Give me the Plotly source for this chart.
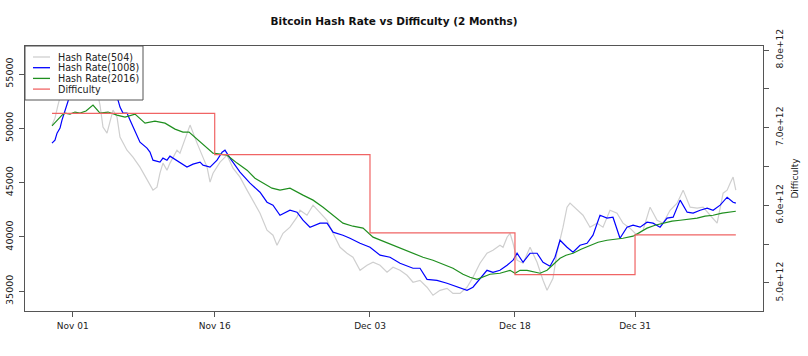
import pandas as pd
import plotly.graph_objects as go

# ---------------- data ----------------
base_date = "2018-10-30 00:00"

# Hash Rate(504) : days since base_date, hash rate
hr504_days = [0.08, 0.40, 0.72, 1.15, 1.58, 2.22, 3.08, 3.93, 4.68, 5.22, 5.54, 5.97, 6.29, 6.61, 7.04,
              7.36, 8.11, 8.75, 9.50, 10.25, 10.89, 11.32, 11.64, 11.96, 12.39, 12.71, 13.46, 13.78,
              14.32, 14.86, 15.61, 16.25, 16.68, 17.00, 17.32, 18.07, 18.82, 19.46, 20.21, 20.96,
              21.60, 22.35, 23.10, 23.74, 24.17, 24.81, 25.56, 26.31, 26.63, 27.38, 28.03, 28.78,
              29.53, 30.17, 30.92, 31.66, 32.30, 33.06, 33.81, 34.45, 35.20, 35.95, 36.59, 37.34,
              38.09, 38.73, 39.48, 40.23, 40.87, 41.62, 42.37, 43.01, 43.76, 44.51, 45.15, 45.90,
              46.65, 47.29, 48.04, 48.37, 48.80, 49.12, 49.44, 49.87, 50.51, 51.26, 52.01, 52.65,
              53.08, 53.72, 54.15, 54.79, 55.22, 55.54, 56.29, 56.93, 57.68, 58.43, 59.07, 59.82,
              60.57, 61.21, 61.96, 62.71, 63.36, 64.11, 64.86, 65.50, 66.25, 67.00, 67.65, 68.40,
              69.15, 69.79, 70.54, 71.29, 71.93, 72.36, 72.68, 73.00, 73.29]
hr504_vals = [50300, 50940, 52140, 53520, 54910, 56110, 56470, 55830, 54450, 52140, 50110, 49560, 50760,
              51680, 51040, 49190, 47990, 47350, 46430, 45230, 44310, 44580, 45870, 46800, 46150,
              46800, 47990, 47720, 48920, 50300, 48640, 47350, 46430, 45050, 45870, 46890, 47530,
              46330, 45510, 44310, 43390, 42190, 40620, 40160, 39240, 40340, 40900, 41820, 42460,
              42000, 42930, 42190, 41540, 40340, 39050, 38500, 38130, 36930, 37390, 37670, 37390,
              36750, 37210, 36930, 36470, 35830, 36010, 35370, 34630, 35090, 35270, 34810, 34810,
              35370, 36290, 37580, 38500, 38780, 39240, 39050, 39980, 40340, 39420, 37860, 37580,
              39050, 37670, 36010, 35090, 36200, 38590, 40900, 42740, 43110, 42460, 42000, 40900,
              41270, 40900, 42460, 42190, 41270, 40810, 40160, 40620, 42740, 41540, 41270, 42460,
              43110, 44310, 42740, 42650, 42740, 42000, 41270, 44030, 44310, 44950, 45510, 44310]

# Hash Rate(1008)
hr1008_days = [0.08, 0.40, 0.62, 0.94, 1.15, 1.47, 2.01, 2.54, 3.08, 4.15, 5.22, 6.08, 6.61, 7.15, 7.36,
               7.68, 8.11, 8.43, 8.75, 9.18, 9.50, 10.25, 10.57, 10.89, 11.64, 11.96, 12.39, 12.71,
               13.03, 13.78, 14.53, 15.18, 15.93, 16.25, 17.00, 17.75, 18.29, 18.60, 19.14, 20.21,
               21.28, 22.35, 23.10, 23.74, 24.49, 25.56, 26.31, 26.95, 27.70, 28.78, 29.53, 30.17,
               31.23, 31.98, 33.06, 34.13, 35.20, 36.27, 37.34, 38.73, 39.48, 40.23, 41.30, 42.37,
               43.01, 43.76, 44.51, 45.15, 45.90, 46.65, 47.29, 48.04, 48.80, 49.44, 49.87, 50.51,
               51.26, 52.01, 52.65, 53.40, 53.93, 54.47, 55.22, 55.86, 56.61, 57.36, 58.00, 58.75,
               59.50, 60.14, 60.89, 61.64, 62.29, 63.04, 63.79, 64.43, 65.18, 65.93, 66.58, 67.33,
               68.08, 68.72, 69.47, 70.22, 70.86, 71.61, 72.36, 73.00, 73.29]
hr1008_vals = [48640, 48920, 49560, 50020, 50760, 51680, 53060, 53990, 54450, 54260, 53710, 52790, 53070,
               52600, 51960, 51400, 51400, 50760, 50110, 49380, 48730, 48180, 47810, 47070, 46890,
               47260, 47070, 47440, 47260, 46800, 46430, 46700, 46890, 46610, 46430, 47070, 47810,
               47990, 47260, 45970, 44950, 44120, 43200, 42930, 42000, 42460, 42280, 41540, 40900,
               41270, 41270, 40440, 40160, 39880, 39420, 39050, 38320, 38130, 37580, 37120, 37120,
               36100, 36010, 35740, 35550, 35270, 35090, 35370, 36200, 36930, 36750, 36930, 37400,
               37860, 38500, 37670, 38500, 38500, 37670, 37300, 38130, 39700, 39050, 38590, 39240,
               39420, 40160, 42000, 41730, 41820, 39880, 40900, 41080, 40900, 41360, 41270, 40900,
               41730, 41820, 43390, 42280, 42190, 42460, 42650, 42460, 42930, 43660, 43200, 43110]

# Hash Rate(2016)
hr2016_days = [0.08, 0.62, 1.15, 1.47, 2.01, 2.54, 3.08, 3.72, 4.47, 5.22, 6.08, 7.04, 7.90, 8.97, 10.04,
               11.10, 12.18, 13.25, 14.10, 14.75, 15.93, 17.32, 18.07, 18.82, 19.89, 20.96, 21.81,
               22.67, 23.63, 24.49, 25.56, 26.95, 28.03, 29.10, 30.17, 31.23, 32.30, 33.38, 34.45,
               35.52, 36.59, 37.66, 38.73, 39.80, 40.87, 41.94, 43.01, 44.08, 44.83, 45.58, 46.33,
               46.97, 48.04, 49.12, 49.65, 50.19, 50.94, 51.69, 52.33, 53.08, 53.61, 54.47, 55.11,
               55.86, 56.72, 57.68, 58.54, 59.50, 60.36, 61.21, 62.29, 63.04, 63.79, 64.64, 65.50,
               66.46, 67.33, 68.18, 69.15, 70.00, 70.86, 71.82, 72.68, 73.29]
hr2016_vals = [50230, 50760, 51220, 51400, 51310, 51500, 51400, 51590, 52140, 51400, 51500, 51220, 51040,
               51310, 50480, 50670, 50480, 49930, 49650, 49650, 48730, 47720, 47630, 47530, 46800,
               46150, 45410, 44950, 44490, 44310, 44490, 43850, 43390, 42740, 42000, 41270, 40990,
               40810, 39980, 39610, 39240, 38870, 38500, 38130, 37860, 37490, 37120, 36570, 36290,
               36100, 36380, 36570, 36660, 36930, 36660, 36930, 36930, 36750, 36660, 36930, 37390,
               38040, 38320, 38500, 38870, 39240, 39510, 39700, 39790, 39880, 40070, 40440, 40810,
               41080, 41270, 41450, 41540, 41630, 41730, 41910, 42000, 42190, 42280, 42370]

# Difficulty (step changes)
diff_times = ["2018-10-30 02:00", "2018-11-16 12:00", "2018-12-03 03:00",
              "2018-12-18 15:30", "2018-12-31 12:00", "2019-01-11 07:00"]
diff_vals = [7.184e12, 6.653e12, 5.646e12, 5.106e12, 5.618e12, 5.618e12]

tick_times = ["2018-11-01 07:10", "2018-11-16 12:00", "2018-12-03 03:00",
              "2018-12-18 15:30", "2018-12-31 12:00"]
left_ticks = [35000, 40000, 45000, 50000, 55000]
right_ticks = [5.0e12, 5.5e12, 6.0e12, 6.5e12, 7.0e12, 7.5e12, 8.0e12]
right_labels = ["5.0e+12", "", "6.0e+12", "", "7.0e+12", "", "8.0e+12"]

series_names = ["Hash Rate(504)", "Hash Rate(1008)", "Hash Rate(2016)", "Difficulty"]
series_colors = ["#CFCFCF", "#0000FF", "#1F8F1F", "#F06464"]

# ---------------- figure ----------------
base = pd.Timestamp(base_date)


def to_dates(days):
    return base + pd.to_timedelta(pd.Series(days), unit="D")


FONT = "DejaVu Sans"
AX = "#555555"

fig = go.Figure()
for days, vals, name, col in [(hr504_days, hr504_vals, series_names[0], series_colors[0]),
                              (hr1008_days, hr1008_vals, series_names[1], series_colors[1]),
                              (hr2016_days, hr2016_vals, series_names[2], series_colors[2])]:
    fig.add_trace(go.Scatter(x=to_dates(days), y=vals, mode="lines", name=name,
                             line=dict(color=col, width=1.2), yaxis="y"))

fig.add_trace(go.Scatter(x=pd.to_datetime(diff_times), y=diff_vals, mode="lines",
                         name=series_names[3], line=dict(color=series_colors[3], width=1.2, shape="hv"),
                         yaxis="y2"))

x_start = base + pd.Timedelta(days=-2.81)
x_end = base + pd.Timedelta(days=76.20)

fig.update_layout(
    width=808, height=356,
    margin=dict(l=25, r=45, t=46, b=45, autoexpand=False),
    paper_bgcolor="white", plot_bgcolor="white",
    showlegend=False,
    font=dict(family=FONT, size=9, color="#222222"),
    title=dict(text="<b>Bitcoin Hash Rate vs Difficulty (2 Months)</b>", x=0.4877, xanchor="center",
               y=0.94, yanchor="middle", font=dict(family=FONT, size=10.5, color="#111111")),
    xaxis=dict(type="date", range=[x_start, x_end], tickvals=pd.to_datetime(tick_times),
               tickformat="%b %d", ticks="outside", ticklen=5, tickcolor=AX, showline=True,
               linecolor=AX, linewidth=1, mirror=True, showgrid=False, zeroline=False,
               ticklabelstandoff=1, tickfont=dict(family=FONT, size=9)),
    yaxis=dict(range=[33184, 57580], tickvals=left_ticks, tickformat="d", tickangle=-90,
               ticks="outside", ticklen=5, tickcolor=AX, showline=True, linecolor=AX, linewidth=1,
               mirror=True, showgrid=False, zeroline=False, ticklabelstandoff=2,
               tickfont=dict(family=FONT, size=9.5)),
    yaxis2=dict(range=[4.6387e12, 8.0516e12], overlaying="y", side="right", tickvals=right_ticks,
                ticktext=right_labels, tickangle=-90, ticks="outside", ticklen=5, tickcolor=AX,
                showline=True, linecolor=AX, linewidth=1, showgrid=False, zeroline=False,
                ticklabelstandoff=3, tickfont=dict(family=FONT, size=9.2),
                title=dict(text="Difficulty", font=dict(family=FONT, size=9), standoff=7)),
)

# hand-drawn legend box in the top-left corner (R style)
plot_w, plot_h = 738.0, 265.0
box_w, box_h = 118.0, 54.0
shapes = [dict(type="rect", xref="paper", yref="paper", x0=0, x1=box_w / plot_w,
               y0=1 - box_h / plot_h, y1=1, fillcolor="white", line=dict(color=AX, width=1),
               layer="above")]
annotations = []
for i, (name, col) in enumerate(zip(series_names, series_colors)):
    yy = 1 - (11 + 10.7 * i) / plot_h
    shapes.append(dict(type="line", xref="paper", yref="paper", x0=8 / plot_w, x1=25 / plot_w,
                       y0=yy, y1=yy, line=dict(color=col, width=1.3), layer="above"))
    annotations.append(dict(xref="paper", yref="paper", x=31 / plot_w, y=yy, text=name,
                            showarrow=False, xanchor="left", yanchor="middle",
                            font=dict(family=FONT, size=9.6, color="#222222")))
fig.update_layout(shapes=shapes, annotations=annotations)

fig.write_html("out.html", config={"displayModeBar": False},
               post_script="document.body.style.margin='0';document.body.style.padding='0';")
